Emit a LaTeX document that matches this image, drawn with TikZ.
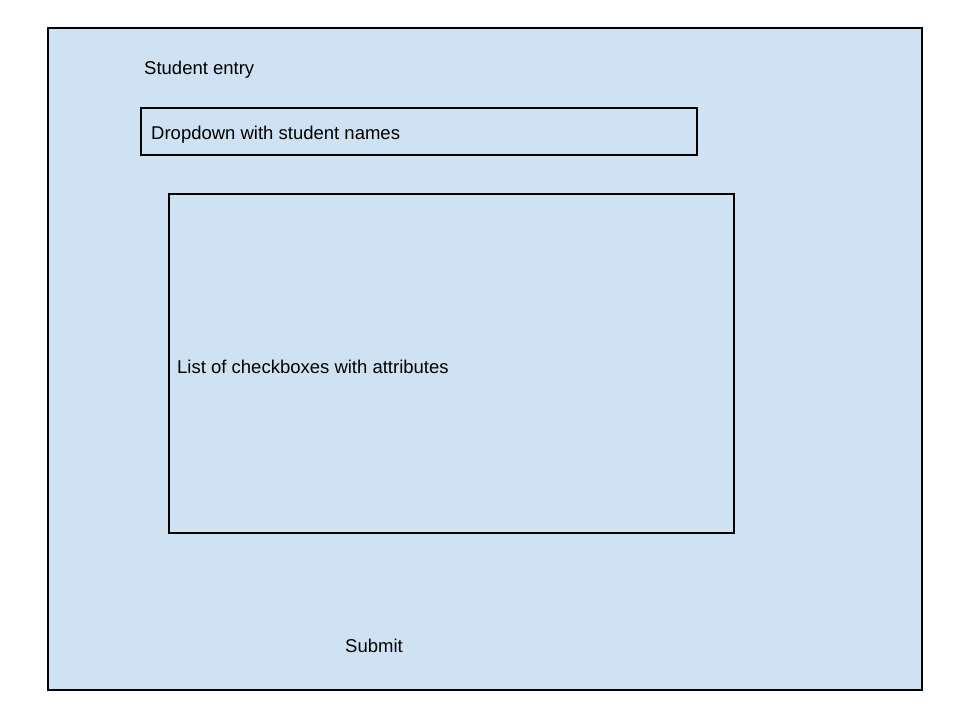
\documentclass[tikz,border=0pt]{standalone}
\usepackage{fontspec}
\setmainfont{Liberation Sans}
\definecolor{panel}{HTML}{CFE2F3}
\begin{document}
\begin{tikzpicture}[x=1pt,y=-1pt,
  box/.style={draw=black,line width=1.4pt},
  lbl/.style={anchor=west,inner sep=0pt,font=\fontsize{18.5}{22}\selectfont}]
\useasboundingbox (0,0) rectangle (960,720);
\fill[white] (0,0) rectangle (960,720);
\draw[box,fill=panel] (48,28) rectangle (922,690);
\node[lbl] (title) at (144,70) {Student entry};
\draw[box] (141,108) rectangle (697,155);
\node[lbl] (dd) at (151,135) {Dropdown with student names};
\draw[box] (169,194) rectangle (734,533);
\node[lbl] (list) at (177,367) {List of checkboxes with attributes};
\node[lbl] (submit) at (345,646) {Submit};
\end{tikzpicture}
\end{document}
